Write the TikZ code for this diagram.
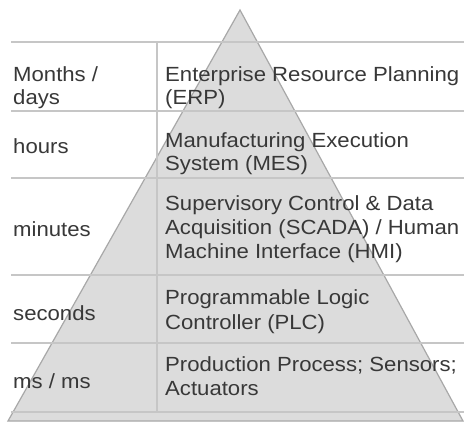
\documentclass[tikz,border=0pt]{standalone}
\usepackage{fontspec}
\setmainfont[FakeStretch=1.08]{Liberation Sans}
\begin{document}
\begin{tikzpicture}[x=1bp,y=-1bp,
  txt/.style={anchor=base west,inner sep=0pt,text=textgray,font=\fontsize{20.5bp}{24bp}\selectfont},
  rule/.style={draw=linegray,line width=1.3bp}]
\definecolor{textgray}{HTML}{383838}
\definecolor{linegray}{HTML}{C6C6C6}
\definecolor{trifill}{HTML}{DCDCDC}
\definecolor{triedge}{HTML}{A8A8A8}
\useasboundingbox (0,0) rectangle (464,423);
\fill[white] (0,0) rectangle (464,423);
% pyramid
\coordinate (apex) at (240,10);
\coordinate (bl) at (8,421);
\coordinate (br) at (463,421);
\filldraw[fill=trifill,draw=triedge,line width=1.2bp] (apex) -- (bl) -- (br) -- cycle;
% table rules
\foreach \y in {42,111,178,275,343,412}{
  \coordinate (l\y) at (11,\y);
  \coordinate (r\y) at (464,\y);
  \draw[rule] (l\y) -- (r\y);
}
\coordinate (vtop) at (157,42);
\coordinate (vbot) at (157,412);
\draw[rule] (vtop) -- (vbot);
% left column
\node[txt] (t1a) at (13,81) {Months /};
\node[txt] (t1b) at (13,104) {days};
\node[txt] (t2) at (13,153) {hours};
\node[txt] (t3) at (13,236) {minutes};
\node[txt] (t4) at (13,320) {seconds};
\node[txt] (t5) at (13,388) {ms / ms};
% right column
\node[txt] (s1a) at (165,81) {Enterprise Resource Planning};
\node[txt] (s1b) at (165,104) {(ERP)};
\node[txt] (s2a) at (165,147) {Manufacturing Execution};
\node[txt] (s2b) at (165,170) {System (MES)};
\node[txt] (s3a) at (165,210) {Supervisory Control \& Data};
\node[txt] (s3b) at (165,234) {Acquisition (SCADA) / Human};
\node[txt] (s3c) at (165,258) {Machine Interface (HMI)};
\node[txt] (s4a) at (165,304) {Programmable Logic};
\node[txt] (s4b) at (165,329) {Controller (PLC)};
\node[txt] (s5a) at (165,371) {Production Process; Sensors;};
\node[txt] (s5b) at (165,395) {Actuators};
\end{tikzpicture}
\end{document}
